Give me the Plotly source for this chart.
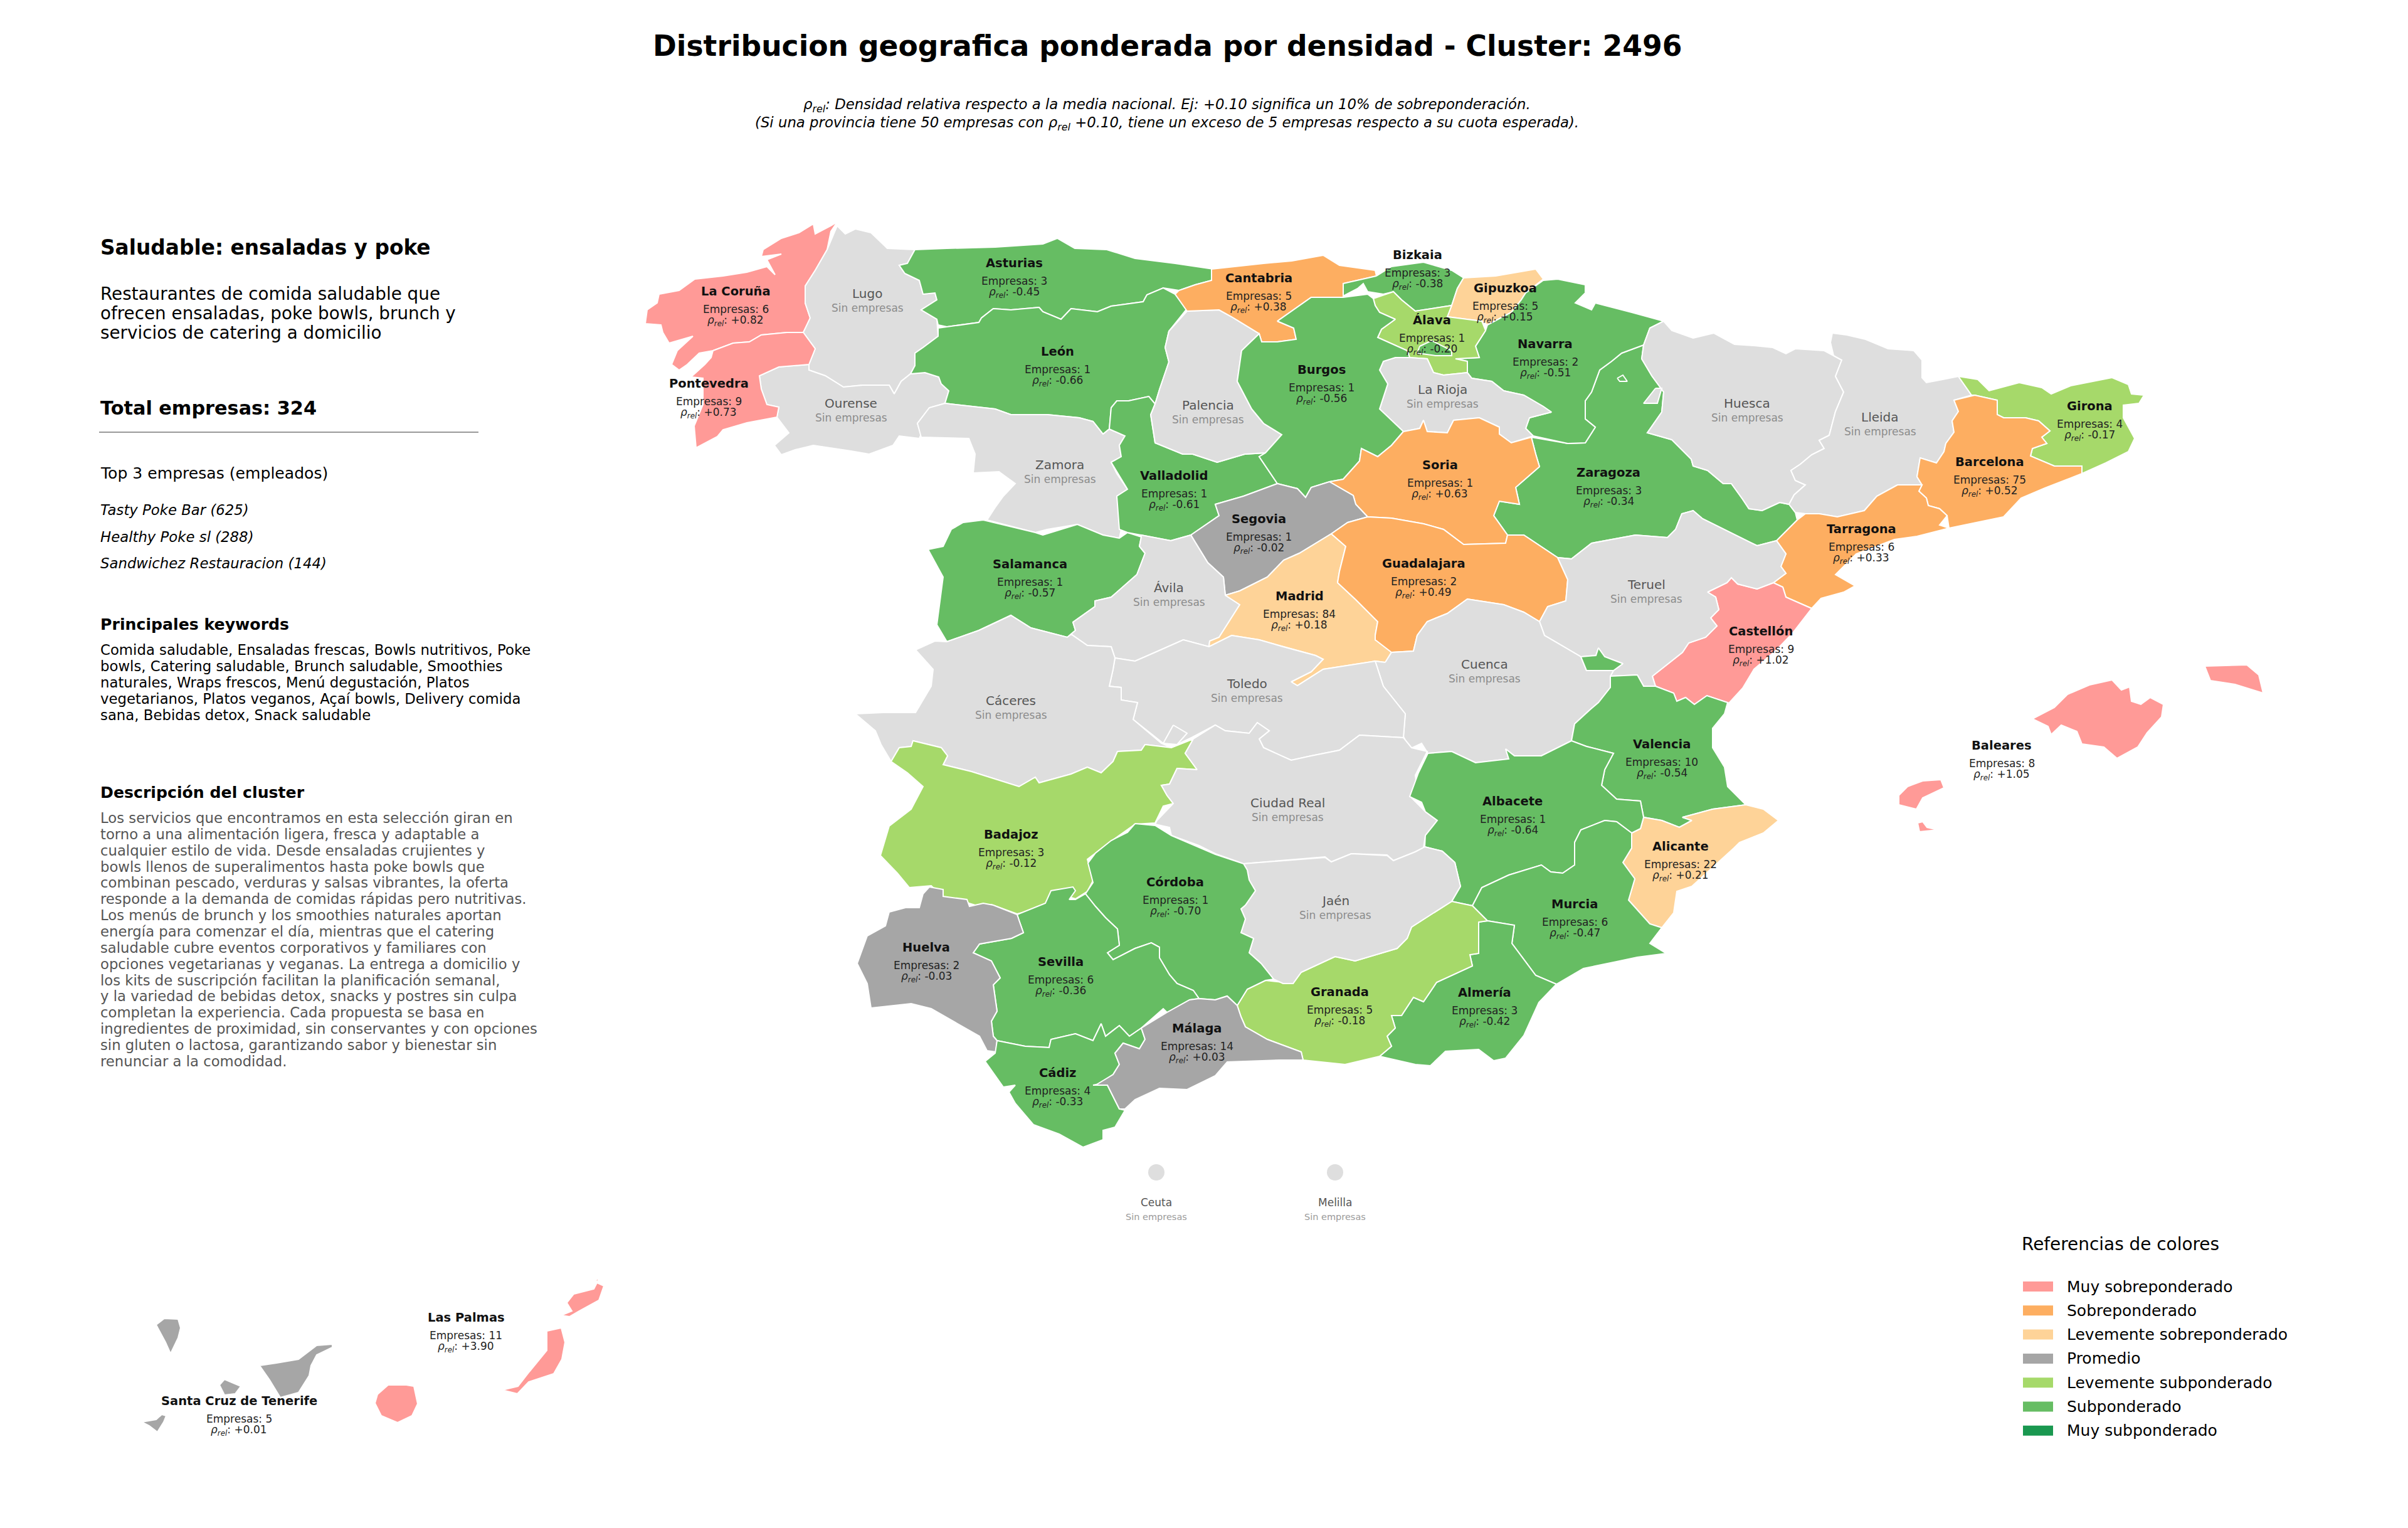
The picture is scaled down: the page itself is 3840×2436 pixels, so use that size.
import plotly.graph_objects as go

FONT = 'DejaVu Sans'

# map units are pixels of the picture, y grows downwards
CORUNA = [[(1335,354),(1325,369),(1319,398),(1300,431),(1284,456),(1284,483),(1292,507),(1281,530),(1255,530),(1214,534),(1195,545),(1169,547),(1137,559),(1115,563),(1096,581),(1083,590),(1071,581),(1080,559),(1105,536),(1067,547),(1057,530),(1054,518),(1029,516),(1032,494),(1048,483),(1051,469),(1083,463),(1108,445),(1153,440),(1191,434),(1223,425),(1236,438),(1223,414),(1246,405),(1214,409),(1217,398),(1246,380),(1274,371),(1297,357),(1300,373),(1325,360)]]
LUGO = [[(1335,360),(1348,373),(1364,365),(1389,371),(1415,396),(1459,398),(1447,420),(1434,423),(1443,436),(1466,447),(1472,469),(1491,467),(1494,478),(1469,494),(1494,509),(1496,536),(1472,554),(1459,563),(1459,583),(1452,596),(1437,608),(1426,628),(1418,614),(1376,614),(1345,617),(1316,599),(1290,590),(1290,581),(1300,556),(1281,530),(1292,507),(1284,483),(1284,456),(1300,431),(1319,398)]]
OURENSE = [[(1211,599),(1242,585),(1290,581),(1290,590),(1316,599),(1345,617),(1376,614),(1418,614),(1426,628),(1437,608),(1452,596),(1475,594),(1497,601),(1501,612),(1513,623),(1507,643),(1482,650),(1463,675),(1469,692),(1466,699),(1434,695),(1424,710),(1386,724),(1357,719),(1297,710),(1268,717),(1246,725),(1235,710),(1258,690),(1239,665),(1242,649),(1223,645),(1214,620)]]
PONTEVEDRA = [[(1281,530),(1300,556),(1290,581),(1242,585),(1211,599),(1214,620),(1223,645),(1242,649),(1239,665),(1191,674),(1153,685),(1144,696),(1110,714),(1107,679),(1121,645),(1121,603),(1102,601),(1124,581),(1134,570),(1137,559),(1169,547),(1195,545),(1214,534),(1255,530)]]
ASTURIAS = [[(1459,398),(1510,396),(1587,394),(1663,389),(1686,380),(1714,396),(1765,398),(1810,412),(1874,420),(1935,429),(1932,447),(1906,454),(1880,463),(1855,459),(1829,470),(1823,481),(1772,488),(1750,497),(1708,492),(1692,509),(1663,497),(1657,490),(1612,494),(1584,492),(1565,507),(1561,514),(1510,521),(1496,518),(1494,509),(1469,494),(1494,478),(1491,467),(1472,469),(1466,447),(1443,436),(1434,423),(1447,420)]]
LEON = [[(1496,523),(1510,521),(1561,514),(1565,507),(1584,492),(1612,494),(1657,490),(1663,497),(1692,509),(1708,492),(1750,497),(1772,488),(1823,481),(1829,470),(1855,459),(1874,469),(1893,492),(1864,528),(1858,554),(1864,577),(1849,621),(1842,644),(1832,632),(1800,639),(1781,639),(1772,650),(1769,684),(1759,692),(1743,672),(1721,666),(1670,661),(1612,661),(1587,652),(1507,643),(1513,623),(1501,612),(1497,601),(1475,594),(1452,596),(1459,583),(1459,563),(1472,554),(1496,536)]]
ZAMORA = [[(1507,643),(1587,652),(1612,661),(1670,661),(1721,666),(1743,672),(1759,692),(1769,684),(1794,695),(1785,710),(1788,728),(1772,737),(1781,755),(1798,780),(1781,791),(1788,844),(1785,858),(1759,853),(1718,836),(1670,844),(1651,849),(1574,829),(1587,809),(1600,791),(1619,771),(1593,752),(1552,754),(1555,724),(1545,699),(1485,697),(1469,697),(1463,675),(1482,650)]]
SALAMANCA = [[(1568,829),(1651,849),(1663,853),(1718,836),(1759,853),(1785,858),(1798,849),(1820,856),(1817,871),(1826,882),(1813,916),(1772,952),(1746,958),(1746,967),(1711,992),(1715,1005),(1702,1016),(1644,1001),(1612,981),(1561,1005),(1510,1023),(1494,996),(1504,920),(1480,876),(1504,871),(1517,844),(1536,833)]]
VALLADOLID = [[(1842,644),(1835,661),(1842,706),(1886,724),(1902,724),(1941,737),(1985,724),(2018,722),(2008,728),(2037,771),(1983,791),(1938,804),(1944,822),(1899,853),(1867,862),(1820,853),(1798,849),(1785,844),(1781,791),(1798,780),(1772,737),(1788,728),(1785,710),(1794,695),(1769,684),(1772,650),(1781,639),(1800,639),(1832,632)]]
PALENCIA = [[(1893,496),(1944,494),(1964,505),(2008,532),(1980,559),(1973,608),(1996,652),(2015,675),(2044,693),(2018,722),(1985,724),(1941,737),(1902,724),(1886,724),(1842,706),(1835,661),(1842,644),(1849,621),(1864,577),(1858,554),(1864,528)]]
CANTABRIA = [[(1932,429),(2015,420),(2060,416),(2110,407),(2136,423),(2193,431),(2195,440),(2142,452),(2142,474),(2091,474),(2037,512),(2063,523),(2067,541),(2037,545),(2012,545),(2008,532),(1964,505),(1944,494),(1893,496),(1874,469),(1880,463),(1906,454),(1932,447)]]
BIZKAIA = [[(2195,440),(2219,425),(2270,418),(2315,431),(2334,443),(2324,460),(2315,487),(2257,496),(2235,478),(2222,465),(2206,469),(2181,465),(2174,452),(2165,460),(2142,472),(2142,452)]]
GIPUZKOA = [[(2334,443),(2385,440),(2449,429),(2461,445),(2433,467),(2426,478),(2410,498),(2372,518),(2363,512),(2308,505),(2315,487),(2324,460)]]
ZARAGOZA = [[(2442,697),(2500,707),(2528,706),(2544,681),(2528,668),(2528,639),(2538,625),(2551,590),(2570,576),(2586,563),(2621,550),(2618,572),(2634,599),(2653,625),(2650,657),(2627,690),(2666,701),(2697,732),(2700,743),(2723,750),(2748,771),(2761,771),(2779,796),(2789,811),(2810,814),(2838,801),(2853,804),(2863,817),(2866,829),(2853,842),(2833,862),(2802,870),(2751,845),(2715,827),(2700,814),(2682,819),(2672,844),(2659,857),(2608,853),(2538,866),(2506,891),(2484,889),(2430,853),(2404,853),(2382,822),(2391,799),(2423,804),(2417,777),(2455,744),(2449,724)]]
NAVARRA = [[(2461,447),(2484,445),(2528,454),(2528,467),(2512,483),(2538,494),(2544,483),(2602,498),(2653,512),(2631,523),(2621,550),(2586,563),(2570,576),(2551,590),(2538,625),(2528,639),(2528,668),(2544,681),(2528,706),(2500,707),(2445,695),(2433,683),(2439,666),(2474,657),(2461,648),(2430,630),(2398,623),(2379,608),(2347,603),(2340,594),(2340,576),(2321,572),(2359,570),(2353,552),(2369,527),(2372,518),(2410,498),(2426,478),(2433,467)],
           [(2579,603),(2588,598),(2595,608),(2583,608)]]
ALAVA = [[(2190,476),(2222,465),(2235,478),(2257,496),(2315,487),(2308,505),(2363,512),(2369,527),(2353,552),(2359,570),(2321,572),(2340,576),(2340,594),(2302,598),(2286,594),(2276,572),(2248,570),(2244,559),(2197,538),(2203,525),(2225,509),(2200,498),(2193,487)],
         [(2171,523),(2184,512),(2200,518),(2184,534)]]
RIOJA = [[(2206,576),(2225,570),(2248,570),(2276,572),(2286,594),(2302,598),(2340,594),(2347,603),(2379,608),(2398,623),(2430,630),(2461,648),(2474,657),(2439,666),(2433,683),(2445,695),(2410,706),(2391,692),(2391,681),(2359,666),(2318,670),(2308,690),(2276,688),(2270,670),(2264,683),(2238,688),(2200,652),(2213,612),(2200,590)]]
BURGOS = [[(2037,512),(2091,474),(2142,474),(2181,469),(2190,476),(2193,487),(2200,498),(2225,509),(2203,525),(2197,538),(2244,559),(2248,570),(2225,570),(2206,576),(2200,590),(2213,612),(2200,652),(2238,688),(2219,710),(2197,728),(2171,715),(2168,735),(2142,764),(2120,768),(2091,777),(2082,793),(2069,779),(2037,771),(2008,728),(2018,722),(2044,693),(2015,675),(1996,652),(1973,608),(1980,559),(2008,532),(2012,545),(2037,545),(2067,541),(2063,523)],
          [(2264,552),(2283,543),(2315,559),(2315,567),(2289,567),(2260,563)]]
SORIA = [[(2238,688),(2264,683),(2270,670),(2276,688),(2308,690),(2318,670),(2359,666),(2391,681),(2391,692),(2410,706),(2442,697),(2449,724),(2455,744),(2417,777),(2423,804),(2391,799),(2382,822),(2404,853),(2401,866),(2334,868),(2302,844),(2270,835),(2219,826),(2181,824),(2162,804),(2158,790),(2120,768),(2142,764),(2168,735),(2171,715),(2197,728),(2219,710)]]
SEGOVIA = [[(2037,771),(2069,779),(2082,793),(2091,777),(2120,768),(2158,790),(2162,804),(2181,824),(2149,833),(2123,851),(2072,882),(2047,893),(2021,920),(1977,942),(1954,949),(1951,920),(1926,897),(1899,853),(1944,822),(1938,804),(1983,791)]]
AVILA = [[(1820,856),(1817,871),(1826,882),(1813,916),(1772,952),(1746,958),(1746,967),(1711,992),(1715,1005),(1708,1011),(1734,1029),(1772,1031),(1778,1049),(1810,1054),(1842,1040),(1887,1020),(1928,1031),(1929,1022),(1944,1016),(1977,964),(1954,949),(1951,920),(1926,897),(1899,853),(1867,862),(1820,853)]]
MADRID = [[(1954,949),(1977,942),(2021,920),(2047,893),(2072,882),(2123,851),(2146,871),(2136,911),(2133,929),(2162,956),(2197,991),(2193,1013),(2193,1020),(2209,1027),(2219,1040),(2209,1056),(2193,1054),(2110,1067),(2069,1093),(2059,1087),(2091,1071),(2110,1051),(2098,1045),(2046,1031),(2008,1020),(1964,1013),(1928,1031),(1929,1022),(1944,1016),(1977,964)]]
GUADALAJARA = [[(2123,851),(2149,833),(2181,824),(2219,826),(2270,835),(2302,844),(2334,868),(2401,866),(2404,853),(2430,853),(2484,889),(2500,924),(2497,958),(2468,967),(2455,991),(2430,976),(2398,964),(2340,955),(2308,978),(2276,991),(2260,1013),(2254,1038),(2219,1040),(2193,1020),(2193,1013),(2197,991),(2162,956),(2133,929),(2136,911),(2146,871)]]
HUESCA = [[(2653,512),(2666,527),(2700,539),(2733,531),(2766,549),(2797,551),(2827,554),(2848,564),(2863,556),(2909,559),(2924,567),(2937,574),(2927,600),(2940,625),(2927,656),(2917,694),(2901,702),(2909,715),(2889,725),(2871,740),(2856,750),(2863,766),(2879,773),(2861,789),(2853,804),(2838,801),(2810,814),(2789,811),(2779,796),(2761,771),(2748,771),(2723,750),(2700,743),(2697,732),(2666,701),(2627,690),(2650,657),(2653,625),(2634,599),(2618,572),(2621,550),(2631,523)],
          [(2640,619),(2650,619),(2643,643),(2621,643)]]
LLEIDA = [[(2922,531),(2945,534),(2975,541),(3011,556),(3052,559),(3065,574),(3065,602),(3072,610),(3098,605),(3123,600),(3144,630),(3116,638),(3123,656),(3113,671),(3116,689),(3103,707),(3100,720),(3088,738),(3062,730),(3057,760),(3065,773),(3026,773),(2993,791),(2973,814),(2930,824),(2901,819),(2879,819),(2863,817),(2853,804),(2861,789),(2879,773),(2863,766),(2856,750),(2871,740),(2889,725),(2909,715),(2901,702),(2917,694),(2927,656),(2940,625),(2927,600),(2937,574),(2924,567),(2919,546)]]
GIRONA = [[(3123,600),(3154,605),(3172,623),(3220,610),(3256,618),(3271,628),(3302,615),(3368,602),(3394,613),(3399,628),(3419,630),(3411,643),(3386,646),(3386,666),(3404,699),(3394,720),(3358,738),(3320,755),(3320,743),(3276,743),(3238,727),(3241,715),(3264,707),(3256,697),(3269,687),(3251,671),(3230,666),(3195,666),(3185,661),(3185,638),(3149,630),(3144,630)]]
BARCELONA = [[(3116,638),(3149,630),(3185,638),(3185,661),(3195,666),(3230,666),(3251,671),(3269,687),(3256,697),(3264,707),(3241,715),(3238,727),(3276,743),(3320,743),(3320,755),(3261,778),(3223,794),(3195,824),(3108,842),(3105,822),(3093,811),(3075,806),(3072,794),(3060,783),(3065,773),(3057,760),(3062,730),(3088,738),(3100,720),(3103,707),(3116,689),(3113,671),(3123,656)]]
TARRAGONA = [[(3026,773),(3065,773),(3060,783),(3072,794),(3075,806),(3093,811),(3105,822),(3093,837),(3108,842),(3057,855),(3021,860),(2960,883),(2927,916),(2958,934),(2940,944),(2904,954),(2889,970),(2848,952),(2843,936),(2828,929),(2848,914),(2840,903),(2848,883),(2833,862),(2853,842),(2866,829),(2879,819),(2901,819),(2930,824),(2973,814),(2993,791)]]
CASTELLON = [[(2723,944),(2754,929),(2761,921),(2771,931),(2802,939),(2828,929),(2843,936),(2848,952),(2889,970),(2858,1010),(2833,1036),(2797,1067),(2779,1097),(2757,1121),(2722,1109),(2702,1123),(2688,1112),(2674,1118),(2669,1105),(2640,1094),(2635,1078),(2683,1040),(2693,1025),(2720,1016),(2738,998),(2728,985),(2741,972),(2736,952)]]
TERUEL = [[(2538,866),(2608,853),(2659,857),(2672,844),(2682,819),(2700,814),(2715,827),(2751,845),(2802,870),(2833,862),(2848,883),(2840,903),(2848,914),(2828,929),(2802,939),(2771,931),(2761,921),(2754,929),(2723,944),(2736,952),(2741,972),(2728,985),(2738,998),(2720,1016),(2693,1025),(2683,1040),(2635,1078),(2640,1094),(2621,1094),(2611,1076),(2568,1078),(2573,1069),(2588,1058),(2559,1047),(2549,1033),(2545,1045),(2521,1047),(2463,1013),(2455,991),(2468,967),(2497,958),(2500,924),(2484,889),(2506,891)]]
CUENCA = [[(2209,1056),(2219,1040),(2254,1038),(2260,1013),(2276,991),(2308,978),(2340,955),(2398,964),(2430,976),(2455,991),(2463,1013),(2521,1047),(2530,1069),(2573,1069),(2568,1078),(2568,1096),(2549,1120),(2535,1132),(2511,1154),(2506,1181),(2458,1205),(2415,1205),(2401,1194),(2406,1210),(2353,1216),(2315,1198),(2277,1201),(2267,1185),(2248,1194),(2238,1174),(2241,1138),(2206,1094),(2193,1054)]]
TOLEDO = [[(1778,1049),(1810,1054),(1842,1040),(1887,1020),(1928,1031),(1964,1013),(2008,1020),(2046,1031),(2098,1045),(2110,1051),(2091,1071),(2059,1087),(2069,1093),(2110,1067),(2193,1054),(2206,1094),(2241,1138),(2238,1176),(2168,1172),(2136,1196),(2091,1205),(2059,1212),(2015,1192),(2008,1178),(2024,1165),(2005,1152),(1992,1169),(1954,1165),(1938,1156),(1900,1176),(1877,1187),(1855,1185),(1807,1147),(1814,1120),(1788,1116),(1788,1096),(1769,1094),(1775,1067)]]
CACERES = [[(1364,1138),(1408,1136),(1460,1136),(1485,1094),(1488,1067),(1460,1036),(1491,1022),(1510,1023),(1561,1005),(1612,981),(1644,1001),(1702,1016),(1708,1011),(1734,1029),(1772,1031),(1778,1049),(1775,1067),(1769,1094),(1788,1096),(1788,1116),(1814,1120),(1807,1147),(1852,1185),(1868,1192),(1826,1187),(1820,1196),(1782,1198),(1775,1214),(1756,1232),(1734,1223),(1708,1234),(1657,1248),(1651,1239),(1625,1254),(1549,1230),(1504,1219),(1511,1205),(1501,1192),(1456,1181),(1453,1190),(1434,1192),(1421,1214),(1405,1187),(1396,1165)]]
BADAJOZ = [[(1421,1214),(1434,1192),(1453,1190),(1456,1181),(1501,1192),(1511,1205),(1504,1219),(1549,1230),(1625,1254),(1651,1239),(1657,1248),(1708,1234),(1734,1223),(1756,1232),(1775,1214),(1782,1198),(1820,1196),(1826,1187),(1868,1192),(1903,1178),(1890,1201),(1909,1227),(1877,1225),(1865,1250),(1852,1252),(1861,1268),(1871,1281),(1855,1285),(1842,1312),(1810,1314),(1772,1341),(1734,1370),(1743,1404),(1734,1421),(1715,1433),(1705,1430),(1711,1417),(1676,1424),(1667,1446),(1622,1457),(1581,1442),(1565,1446),(1542,1439),(1504,1430),(1485,1412),(1450,1415),(1431,1392),(1404,1364),(1418,1317),(1453,1290),(1472,1254),(1447,1232)]]
CIUDAD_REAL = [[(1903,1178),(1938,1156),(1954,1165),(1992,1169),(2005,1152),(2024,1165),(2008,1178),(2015,1192),(2059,1212),(2091,1205),(2136,1196),(2168,1172),(2238,1176),(2251,1192),(2276,1198),(2257,1236),(2260,1259),(2251,1272),(2273,1294),(2292,1308),(2273,1332),(2270,1352),(2257,1358),(2222,1372),(2212,1363),(2155,1361),(2123,1374),(2113,1366),(2066,1370),(1983,1377),(1938,1361),(1912,1348),(1868,1332),(1865,1319),(1842,1314),(1845,1308),(1871,1281),(1861,1268),(1852,1252),(1865,1250),(1877,1225),(1909,1227),(1890,1201)],
               [(1871,1156),(1893,1169),(1877,1187),(1855,1185)]]
VALENCIA = [[(2568,1078),(2611,1076),(2621,1094),(2640,1094),(2669,1105),(2674,1118),(2688,1112),(2702,1123),(2722,1109),(2755,1120),(2750,1138),(2731,1161),(2731,1192),(2750,1223),(2755,1254),(2784,1283),(2731,1290),(2683,1303),(2698,1308),(2678,1319),(2650,1308),(2621,1303),(2616,1277),(2578,1274),(2554,1252),(2559,1227),(2573,1201),(2530,1190),(2506,1181),(2511,1154),(2535,1132),(2549,1120),(2568,1096)],
            [(2521,1047),(2545,1045),(2549,1033),(2559,1047),(2588,1058),(2573,1069),(2530,1069)]]
ALICANTE = [[(2784,1283),(2812,1290),(2836,1308),(2812,1328),(2774,1343),(2765,1352),(2698,1413),(2674,1421),(2669,1455),(2650,1479),(2631,1473),(2597,1435),(2607,1401),(2588,1375),(2602,1352),(2602,1328),(2616,1321),(2621,1303),(2650,1308),(2678,1319),(2698,1308),(2683,1303),(2731,1290)]]
ALBACETE = [[(2277,1201),(2315,1198),(2353,1216),(2406,1210),(2401,1194),(2415,1205),(2458,1205),(2506,1181),(2530,1190),(2573,1201),(2559,1227),(2554,1252),(2578,1274),(2616,1277),(2621,1303),(2616,1321),(2602,1328),(2578,1310),(2559,1308),(2521,1323),(2511,1343),(2511,1379),(2492,1392),(2473,1390),(2458,1379),(2406,1395),(2363,1415),(2348,1444),(2315,1437),(2329,1413),(2320,1375),(2300,1357),(2272,1350),(2273,1332),(2292,1308),(2273,1294),(2267,1279),(2248,1270),(2262,1232)]]
MURCIA = [[(2602,1328),(2578,1310),(2559,1308),(2521,1323),(2511,1343),(2511,1379),(2492,1392),(2473,1390),(2458,1379),(2406,1395),(2363,1415),(2348,1444),(2372,1468),(2415,1475),(2411,1504),(2449,1555),(2482,1569),(2525,1544),(2578,1533),(2611,1526),(2657,1520),(2631,1504),(2650,1479),(2631,1473),(2597,1435),(2607,1401),(2588,1375),(2602,1352)]]
ALMERIA = [[(2372,1468),(2415,1475),(2411,1504),(2449,1555),(2482,1569),(2454,1598),(2430,1651),(2401,1687),(2382,1691),(2358,1673),(2305,1676),(2281,1699),(2257,1697),(2200,1684),(2219,1668),(2212,1652),(2225,1639),(2219,1619),(2235,1619),(2254,1590),(2270,1597),(2291,1566),(2348,1540),(2344,1522),(2358,1520),(2358,1470)]]
GRANADA = [[(1973,1603),(1989,1577),(2018,1563),(2062,1568),(2075,1550),(2129,1525),(2161,1532),(2228,1512),(2244,1496),(2251,1478),(2282,1458),(2315,1437),(2348,1444),(2372,1468),(2358,1470),(2358,1520),(2344,1522),(2348,1540),(2291,1566),(2270,1597),(2254,1590),(2235,1619),(2219,1619),(2225,1639),(2212,1652),(2219,1668),(2200,1684),(2145,1697),(2078,1690),(2075,1677),(2021,1657),(1986,1637),(1979,1621)]]
JAEN = [[(1983,1377),(2066,1371),(2113,1367),(2123,1374),(2155,1361),(2212,1364),(2222,1372),(2257,1358),(2272,1350),(2300,1357),(2320,1375),(2329,1413),(2315,1437),(2282,1458),(2251,1478),(2244,1496),(2228,1512),(2161,1532),(2129,1525),(2075,1550),(2062,1568),(2046,1568),(2031,1561),(2011,1536),(1992,1519),(1999,1496),(1979,1487),(1986,1465),(1979,1449),(1986,1443),(2002,1420),(1992,1403),(1989,1387)]]
CORDOBA = [[(1810,1313),(1842,1316),(1868,1332),(1912,1351),(1938,1362),(1983,1377),(1989,1387),(1992,1403),(2002,1420),(1986,1443),(1979,1449),(1986,1465),(1979,1487),(1999,1496),(1992,1519),(2011,1536),(2031,1561),(2018,1563),(1989,1577),(1973,1603),(1957,1588),(1938,1594),(1912,1592),(1903,1579),(1877,1568),(1865,1554),(1849,1527),(1849,1510),(1836,1503),(1810,1512),(1775,1530),(1766,1519),(1785,1507),(1782,1481),(1763,1463),(1747,1445),(1731,1425),(1743,1407),(1735,1376),(1747,1360),(1772,1340),(1798,1327)]]
SEVILLA = [[(1622,1458),(1667,1440),(1676,1420),(1711,1414),(1715,1420),(1705,1434),(1715,1434),(1731,1425),(1747,1445),(1763,1463),(1782,1481),(1785,1507),(1766,1519),(1775,1530),(1810,1512),(1836,1503),(1849,1510),(1849,1527),(1865,1554),(1877,1568),(1903,1579),(1912,1592),(1897,1594),(1861,1614),(1855,1608),(1820,1639),(1801,1652),(1785,1635),(1763,1652),(1756,1632),(1743,1659),(1715,1648),(1676,1657),(1673,1670),(1635,1668),(1590,1659),(1584,1652),(1581,1628),(1590,1612),(1584,1570),(1595,1559),(1581,1532),(1552,1519),(1562,1505),(1613,1496),(1632,1487),(1625,1467)]]
HUELVA = [[(1482,1414),(1504,1418),(1504,1429),(1542,1434),(1546,1445),(1568,1440),(1584,1443),(1622,1458),(1625,1467),(1632,1487),(1613,1496),(1562,1505),(1552,1519),(1581,1532),(1595,1559),(1584,1570),(1590,1612),(1581,1628),(1584,1652),(1590,1659),(1588,1677),(1574,1675),(1562,1652),(1485,1608),(1453,1600),(1389,1607),(1383,1568),(1367,1536),(1383,1492),(1412,1476),(1418,1454),(1444,1447),(1466,1447),(1472,1425)]]
CADIZ = [[(1590,1659),(1635,1668),(1673,1670),(1676,1657),(1715,1648),(1743,1659),(1756,1632),(1763,1652),(1785,1635),(1801,1652),(1820,1639),(1826,1657),(1817,1672),(1791,1663),(1778,1679),(1785,1697),(1775,1713),(1753,1728),(1743,1730),(1766,1730),(1785,1768),(1794,1770),(1778,1797),(1759,1802),(1759,1817),(1727,1829),(1689,1808),(1648,1793),(1619,1759),(1609,1741),(1619,1730),(1600,1733),(1571,1692),(1587,1679)]]
MALAGA = [[(1897,1594),(1912,1592),(1938,1594),(1957,1588),(1973,1603),(1979,1621),(1986,1637),(2021,1657),(2075,1677),(2078,1690),(2040,1690),(1957,1693),(1938,1715),(1893,1737),(1849,1735),(1810,1753),(1794,1768),(1785,1768),(1766,1730),(1747,1730),(1775,1713),(1785,1697),(1778,1679),(1791,1663),(1817,1672),(1826,1657),(1820,1639),(1861,1614)]]
BALEARES = [[(3241,1146),(3276,1128),(3297,1107),(3332,1092),(3368,1084),(3383,1100),(3396,1095),(3399,1118),(3414,1123),(3429,1112),(3450,1123),(3447,1143),(3424,1168),(3409,1191),(3376,1209),(3355,1191),(3320,1186),(3312,1166),(3287,1156),(3271,1171),(3266,1158)],
            [(3516,1062),(3583,1060),(3602,1076),(3609,1105),(3564,1091),(3525,1085)],
            [(3028,1268),(3042,1254),(3066,1245),(3095,1243),(3100,1256),(3066,1272),(3056,1290),(3028,1283)],
            [(3058,1312),(3066,1310),(3073,1319),(3090,1323),(3061,1326)]]
LAS_PALMAS = [[(619,2208),(648,2208),(660,2210),(666,2238),(657,2257),(634,2268),(608,2257),(598,2237),(602,2223)],
              [(872,2122),(895,2117),(901,2140),(896,2167),(883,2190),(843,2203),(825,2222),(801,2216),(826,2210),(844,2187),(872,2153)],
              [(895,2097),(912,2090),(904,2077),(915,2063),(947,2055),(952,2045),(963,2050),(955,2073),(924,2090),(908,2099)],
              [(950,2042),(953,2036),(954,2043)]]
TENERIFE = [[(249,2112),(262,2102),(284,2103),(288,2117),(284,2133),(272,2158),(264,2140)],
            [(414,2177),(441,2173),(476,2167),(505,2145),(530,2143),(530,2148),(505,2160),(496,2177),(493,2193),(476,2220),(447,2228),(430,2200)],
            [(350,2208),(358,2199),(384,2210),(375,2222),(358,2224)],
            [(226,2267),(249,2263),(258,2255),(265,2257),(261,2267),(251,2283),(238,2273)]]

provincias = ['La Coruña', 'Lugo', 'Ourense', 'Pontevedra', 'Asturias', 'León', 'Zamora', 'Salamanca', 'Valladolid',
              'Palencia', 'Cantabria', 'Bizkaia', 'Gipuzkoa', 'Zaragoza', 'Navarra', 'Álava', 'La Rioja', 'Burgos',
              'Soria', 'Segovia', 'Ávila', 'Madrid', 'Guadalajara', 'Huesca', 'Lleida', 'Girona', 'Barcelona',
              'Tarragona', 'Castellón', 'Teruel', 'Cuenca', 'Toledo', 'Cáceres', 'Badajoz', 'Ciudad Real', 'Valencia',
              'Alicante', 'Albacete', 'Murcia', 'Almería', 'Granada', 'Jaén', 'Córdoba', 'Sevilla', 'Huelva', 'Cádiz',
              'Málaga', 'Baleares', 'Las Palmas', 'Santa Cruz de Tenerife']
contornos = [CORUNA, LUGO, OURENSE, PONTEVEDRA, ASTURIAS, LEON, ZAMORA, SALAMANCA, VALLADOLID,
             PALENCIA, CANTABRIA, BIZKAIA, GIPUZKOA, ZARAGOZA, NAVARRA, ALAVA, RIOJA, BURGOS,
             SORIA, SEGOVIA, AVILA, MADRID, GUADALAJARA, HUESCA, LLEIDA, GIRONA, BARCELONA,
             TARRAGONA, CASTELLON, TERUEL, CUENCA, TOLEDO, CACERES, BADAJOZ, CIUDAD_REAL, VALENCIA,
             ALICANTE, ALBACETE, MURCIA, ALMERIA, GRANADA, JAEN, CORDOBA, SEVILLA, HUELVA, CADIZ,
             MALAGA, BALEARES, LAS_PALMAS, TENERIFE]
empresas = [6, 0, 0, 9, 3, 1, 0, 1, 1,
            0, 5, 3, 5, 3, 2, 1, 0, 1,
            1, 1, 0, 84, 2, 0, 0, 4, 75,
            6, 9, 0, 0, 0, 0, 3, 0, 10,
            22, 1, 6, 3, 5, 0, 1, 6, 2, 4,
            14, 8, 11, 5]
rho = [0.82, None, None, 0.73, -0.45, -0.66, None, -0.57, -0.61,
       None, 0.38, -0.38, 0.15, -0.34, -0.51, -0.20, None, -0.56,
       0.63, -0.02, None, 0.18, 0.49, None, None, -0.17, 0.52,
       0.33, 1.02, None, None, None, None, -0.12, None, -0.54,
       0.21, -0.64, -0.47, -0.42, -0.18, None, -0.70, -0.36, -0.03, -0.33,
       0.03, 1.05, 3.90, 0.01]
etiqueta_x = [1173, 1383, 1357, 1130, 1617, 1686, 1690, 1642, 1872,
              1926, 2007, 2260, 2400, 2565, 2464, 2283, 2300, 2107,
              2296, 2007, 1864, 2072, 2270, 2786, 2998, 3332, 3173,
              2968, 2808, 2625, 2367, 1988, 1612, 1612, 2053, 2650,
              2680, 2412, 2511, 2367, 2136, 2129, 1874, 1691, 1477, 1686,
              1909, 3192, 743, 381]
etiqueta_y = [464, 468, 643, 611, 419, 560, 741, 899, 758,
              646, 443, 406, 459, 753, 548, 510, 621, 589,
              741, 827, 937, 950, 898, 643, 665, 647, 736,
              843, 1006, 932, 1059, 1090, 1117, 1330, 1280, 1186,
              1349, 1277, 1441, 1582, 1581, 1436, 1406, 1533, 1510, 1710,
              1639, 1188, 2100, 2233]

ciudades = ['Ceuta', 'Melilla']
ciudades_x = [1844, 2129]
ciudades_y = [1869, 1869]

leyenda = ['Muy sobreponderado', 'Sobreponderado', 'Levemente sobreponderado', 'Promedio',
           'Levemente subponderado', 'Subponderado', 'Muy subponderado']
colores = ['#ff9a97', '#fdae61', '#fed398', '#a6a6a6', '#a6d96a', '#66bd63', '#1a9850']
SIN_DATOS = '#dedede'

titulo = 'Distribucion geografica ponderada por densidad - Cluster: 2496'
nota = ['ρ<sub>rel</sub>: Densidad relativa respecto a la media nacional. Ej: +0.10 significa un 10% de sobreponderación.',
        '(Si una provincia tiene 50 empresas con ρ<sub>rel</sub> +0.10, tiene un exceso de 5 empresas respecto a su cuota esperada).']
cabecera = ['Restaurantes de comida saludable que', 'ofrecen ensaladas, poke bowls, brunch y', 'servicios de catering a domicilio']
top3 = ['Tasty Poke Bar (625)', 'Healthy Poke sl (288)', 'Sandwichez Restauracion (144)']
keywords = ['Comida saludable, Ensaladas frescas, Bowls nutritivos, Poke',
            'bowls, Catering saludable, Brunch saludable, Smoothies',
            'naturales, Wraps frescos, Menú degustación, Platos',
            'vegetarianos, Platos veganos, Açaí bowls, Delivery comida',
            'sana, Bebidas detox, Snack saludable']
descripcion = ['Los servicios que encontramos en esta selección giran en',
               'torno a una alimentación ligera, fresca y adaptable a',
               'cualquier estilo de vida. Desde ensaladas crujientes y',
               'bowls llenos de superalimentos hasta poke bowls que',
               'combinan pescado, verduras y salsas vibrantes, la oferta',
               'responde a la demanda de comidas rápidas pero nutritivas.',
               'Los menús de brunch y los smoothies naturales aportan',
               'energía para comenzar el día, mientras que el catering',
               'saludable cubre eventos corporativos y familiares con',
               'opciones vegetarianas y veganas. La entrega a domicilio y',
               'los kits de suscripción facilitan la planificación semanal,',
               'y la variedad de bebidas detox, snacks y postres sin culpa',
               'completan la experiencia. Cada propuesta se basa en',
               'ingredientes de proximidad, sin conservantes y con opciones',
               'sin gluten o lactosa, garantizando sabor y bienestar sin',
               'renunciar a la comodidad.']


def color_de(valor):
    if valor is None:
        return SIN_DATOS
    for corte, color in zip([0.70, 0.25, 0.10, -0.10, -0.25, -0.75], colores):
        if valor >= corte:
            return color
    return colores[-1]


def texto(fig, x, y, s, size, color='#000000', bold=False, italic=False, anchor='left'):
    fig.add_annotation(
        x=x, y=y, text=s, showarrow=False, xanchor=anchor, yanchor='middle',
        font=dict(family=FONT, size=size, color=color, weight='bold' if bold else 'normal',
                  style='italic' if italic else 'normal')
    )


fig = go.Figure()

for nombre, anillos, valor in zip(provincias, contornos, rho):
    xs, ys = [], []
    for anillo in anillos:
        xs += [p[0] for p in anillo] + [anillo[0][0], None]
        ys += [p[1] for p in anillo] + [anillo[0][1], None]
    fig.add_trace(go.Scatter(
        x=xs, y=ys, mode='lines', fill='toself', fillcolor=color_de(valor),
        line=dict(color='#ffffff', width=2), name=nombre, showlegend=False
    ))

fig.add_trace(go.Scatter(
    x=ciudades_x, y=ciudades_y, mode='markers', marker=dict(color=SIN_DATOS, size=26), showlegend=False
))

for nombre, n, valor, x, y in zip(provincias, empresas, rho, etiqueta_x, etiqueta_y):
    if valor is None:
        texto(fig, x, y, nombre, 20, '#555555', anchor='center')
        texto(fig, x, y + 23, 'Sin empresas', 17, '#8c8c8c', anchor='center')
    else:
        texto(fig, x, y, nombre, 19.5, '#111111', bold=True, anchor='center')
        texto(fig, x, y + 29, 'Empresas: {0}'.format(n), 17, '#222222', anchor='center')
        texto(fig, x, y + 47, '<i>ρ<sub>rel</sub></i>: {0:+.2f}'.format(valor), 17, '#222222', anchor='center')

for nombre, x in zip(ciudades, ciudades_x):
    texto(fig, x, 1917, nombre, 17, '#555555', anchor='center')
    texto(fig, x, 1940, 'Sin empresas', 14.5, '#9a9a9a', anchor='center')

texto(fig, 1861, 73, titulo, 45.6, bold=True, anchor='center')
for i, linea in enumerate(nota):
    texto(fig, 1861, 168 + i * 29, linea, 22.8, italic=True, anchor='center')

texto(fig, 158, 395, 'Saludable: ensaladas y poke', 32.8, bold=True)
for i, linea in enumerate(cabecera):
    texto(fig, 158, 468 + i * 31, linea, 27.8)
texto(fig, 158, 650, 'Total empresas: 324', 30.3, bold=True)
fig.add_shape(type='line', x0=158, x1=763, y0=689, y1=689, line=dict(color='#999999', width=2))
texto(fig, 158, 754, 'Top 3 empresas (empleados)', 25.1)
for i, linea in enumerate(top3):
    texto(fig, 158, 813 + i * 42.5, linea, 22.8, italic=True)
texto(fig, 158, 995, 'Principales keywords', 25.2, bold=True)
for i, linea in enumerate(keywords):
    texto(fig, 158, 1036 + i * 26, linea, 22.8)
texto(fig, 158, 1263, 'Descripción del cluster', 25.2, bold=True)
for i, linea in enumerate(descripcion):
    texto(fig, 158, 1304 + i * 25.85, linea, 22.75, '#555555')

texto(fig, 3222, 1983, 'Referencias de colores', 27.9)
for i, (etiqueta, color) in enumerate(zip(leyenda, colores)):
    y = 2051 + i * 38.3
    fig.add_shape(type='rect', x0=3226, x1=3274, y0=y - 8, y1=y + 8, fillcolor=color, line=dict(width=0))
    texto(fig, 3294, y, etiqueta, 25)

fig.update_layout(
    width=3840, height=2436, margin=dict(b=0, l=0, r=0, t=0), plot_bgcolor='#ffffff', paper_bgcolor='#ffffff',
    xaxis=dict(range=[0, 3840], visible=False), yaxis=dict(range=[2436, 0], visible=False), hovermode=False
)

fig.write_html("out.html", config=dict(displayModeBar=False), post_script="document.body.style.margin='0';")
